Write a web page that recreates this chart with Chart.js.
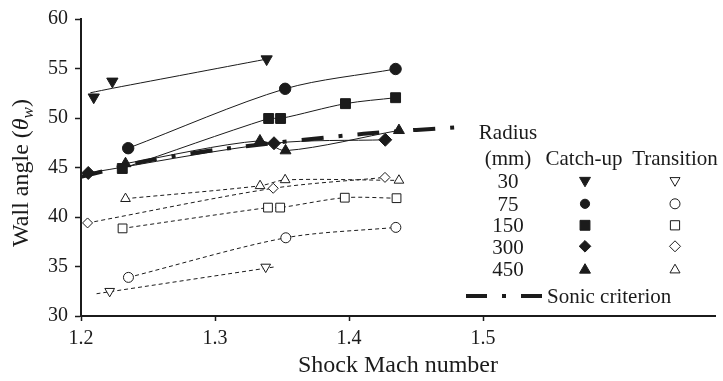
<!DOCTYPE html>
<html>
<head>
<meta charset="utf-8">
<script src="https://cdn.jsdelivr.net/npm/chart.js@4.4.1/dist/chart.umd.min.js"></script>
<style>
    html, body { margin: 0; padding: 0; background: #fff; }
</style>
</head>
<body>
<canvas id="wallChart" width="723" height="381"></canvas>
<script>
// Axis ticks
const xTicks = [1.2, 1.3, 1.4, 1.5];
const yTicks = [30, 35, 40, 45, 50, 55, 60];
const radii = ['30', '75', '150', '300', '450'];

// Catch-up (filled markers)
const cu30Mach = [1.2095, 1.2234, 1.3385];
const cu30Angle = [52.1, 53.7, 55.95];
const cu30FitMach = [1.207, 1.2234, 1.28, 1.3385];
const cu30FitAngle = [52.55, 53.0, 54.45, 55.95];
const cu75Mach = [1.2352, 1.3523, 1.4347];
const cu75Angle = [46.95, 52.95, 54.95];
const cu150Mach = [1.2308, 1.3400, 1.3489, 1.3973, 1.4347];
const cu150Angle = [44.9, 49.95, 49.95, 51.45, 52.05];
const cu300Mach = [1.2054, 1.3440, 1.4270];
const cu300Angle = [44.45, 47.45, 47.8];
const cu450Mach = [1.2332, 1.3335, 1.3526, 1.4372];
const cu450Angle = [45.4, 47.7, 46.7, 48.75];

// Transition (open markers)
const tr30Mach = [1.2214, 1.3378];
const tr30Angle = [32.5, 34.95];
const tr30FitMach = [1.2116, 1.345];
const tr30FitAngle = [32.25, 34.97];
const tr75Mach = [1.2354, 1.3528, 1.4349];
const tr75Angle = [33.9, 37.9, 38.95];
const tr150Mach = [1.231, 1.3395, 1.3486, 1.3968, 1.4354];
const tr150Angle = [38.85, 40.95, 40.95, 41.95, 41.9];
const tr300Mach = [1.2049, 1.3434, 1.4268];
const tr300Angle = [39.4, 42.9, 44.0];
const tr450Mach = [1.2332, 1.3336, 1.3523, 1.4372];
const tr450Angle = [41.85, 43.15, 43.75, 43.7];

// Sonic criterion
const sonicMach = [1.2, 1.25, 1.3074, 1.4109, 1.4895];
const sonicAngle = [44.05, 45.7, 46.9, 48.4, 49.15];

const ink = '#1b1b1b';
const serif = 'Liberation Serif';

function pts(xs, ys) {
    return xs.map((x, i) => ({ x: x, y: ys[i] }));
}

const series = [
    { x: cu30Mach, y: cu30Angle, fx: cu30FitMach, fy: cu30FitAngle, style: 'triangle', rot: 180, r: 6.5, filled: true },
    { x: cu75Mach, y: cu75Angle, style: 'circle', rot: 0, r: 5.7, filled: true },
    { x: cu150Mach, y: cu150Angle, style: 'rect', rot: 0, r: 7, filled: true },
    { x: cu300Mach, y: cu300Angle, style: 'rectRot', rot: 0, r: 6.5, filled: true },
    { x: cu450Mach, y: cu450Angle, style: 'triangle', rot: 0, r: 6.3, filled: true },
    { x: tr30Mach, y: tr30Angle, fx: tr30FitMach, fy: tr30FitAngle, style: 'triangle', rot: 180, r: 5.6, filled: false },
    { x: tr75Mach, y: tr75Angle, style: 'circle', rot: 0, r: 5, filled: false },
    { x: tr150Mach, y: tr150Angle, style: 'rect', rot: 0, r: 6.2, filled: false },
    { x: tr300Mach, y: tr300Angle, style: 'rectRot', rot: 0, r: 5, filled: false },
    { x: tr450Mach, y: tr450Angle, style: 'triangle', rot: 0, r: 5.6, filled: false }
];

const datasets = [];
series.forEach(s => {
    // fitted line
    datasets.push({
        data: pts(s.fx || s.x, s.fy || s.y),
        showLine: true,
        pointRadius: 0,
        borderColor: ink,
        borderWidth: 1,
        borderDash: s.filled ? [] : [4, 3],
        tension: 0.3,
        order: 3
    });
    // markers
    datasets.push({
        data: pts(s.x, s.y),
        showLine: false,
        pointStyle: s.style,
        pointRotation: s.rot,
        pointRadius: s.r,
        pointBackgroundColor: s.filled ? ink : '#fff',
        pointBorderColor: ink,
        pointBorderWidth: 1,
        order: 1
    });
});
datasets.push({
    data: pts(sonicMach, sonicAngle),
    showLine: true,
    pointRadius: 0,
    borderColor: ink,
    borderWidth: 4,
    borderDash: [22, 15, 4, 15],
    borderCapStyle: 'butt',
    tension: 0.3,
    order: 2
});

// y title with italic theta and subscript w
const yTitlePlugin = {
    id: 'yTitle',
    afterDraw(chart) {
        const ctx = chart.ctx;
        ctx.save();
        ctx.translate(28, 173);
        ctx.rotate(-Math.PI / 2);
        ctx.fillStyle = ink;
        ctx.textBaseline = 'alphabetic';
        ctx.textAlign = 'left';
        const parts = [
            { t: 'Wall angle (', f: '24px ' + serif, dy: 0 },
            { t: '\u03B8', f: 'italic 24px ' + serif, dy: 0 },
            { t: 'w', f: 'italic 17px ' + serif, dy: 5 },
            { t: ')', f: '24px ' + serif, dy: 0 }
        ];
        let total = 0;
        parts.forEach(p => { ctx.font = p.f; p.w = ctx.measureText(p.t).width; total += p.w; });
        let x = -total / 2;
        parts.forEach(p => {
            ctx.font = p.f;
            ctx.fillText(p.t, x, p.dy);
            x += p.w;
        });
        ctx.restore();
    }
};

// legend table drawn inside the plot
const legendPlugin = {
    id: 'tableLegend',
    afterDraw(chart) {
        const ctx = chart.ctx;
        ctx.save();
        ctx.fillStyle = ink;
        ctx.font = '21px ' + serif;
        ctx.textBaseline = 'alphabetic';
        ctx.textAlign = 'center';
        ctx.fillText('Radius', 508, 139);
        ctx.fillText('(mm)', 508, 165);
        ctx.fillText('Catch-up', 584, 165);
        ctx.fillText('Transition', 675, 165);

        const baselines = [188.3, 210.7, 232.3, 254, 275.7];
        const markY = [180.5, 203.8, 225.3, 246.3, 270];
        radii.forEach((r, i) => {
            ctx.fillStyle = ink;
            ctx.fillText(r, 508, baselines[i]);
            const cu = series[i];
            const tr = series[i + 5];
            const sizes = [[6.3, 5.8], [4.6, 5], [7, 6.5], [5.8, 5.5], [6.3, 5.8]][i];
            ctx.strokeStyle = ink;
            ctx.lineWidth = 1;
            ctx.fillStyle = ink;
            Chart.helpers.drawPoint(ctx, { pointStyle: cu.style, rotation: cu.rot, radius: sizes[0], borderWidth: 1 }, 585, markY[i]);
            ctx.fillStyle = '#fff';
            Chart.helpers.drawPoint(ctx, { pointStyle: tr.style, rotation: tr.rot, radius: sizes[1], borderWidth: 1 }, 675, markY[i]);
        });

        ctx.strokeStyle = ink;
        ctx.lineWidth = 4;
        ctx.lineCap = 'butt';
        ctx.setLineDash([21, 15, 4, 15]);
        ctx.beginPath();
        ctx.moveTo(466, 296);
        ctx.lineTo(542, 296);
        ctx.stroke();
        ctx.setLineDash([]);
        ctx.fillStyle = ink;
        ctx.textAlign = 'left';
        ctx.fillText('Sonic criterion', 547, 303.3);
        ctx.restore();
    }
};

new Chart(document.getElementById('wallChart'), {
    type: 'scatter',
    data: { datasets: datasets },
    options: {
        responsive: false,
        animation: false,
        events: [],
        layout: { padding: { top: 14, right: 1, left: 0, bottom: 0 } },
        plugins: {
            legend: { display: false },
            tooltip: { enabled: false }
        },
        scales: {
            x: {
                type: 'linear',
                min: 1.2,
                max: 1.673,
                afterBuildTicks: s => { s.ticks = xTicks.map(v => ({ value: v })); },
                afterFit: s => { s.height = 65; },
                border: { color: ink, width: 2 },
                grid: { drawOnChartArea: false, tickLength: 5, color: ink, tickWidth: 1.5 },
                ticks: {
                    padding: 6,
                    color: ink,
                    font: { family: serif, size: 20 },
                    callback: v => Number(v).toFixed(1)
                },
                title: {
                    display: true,
                    text: 'Shock Mach number',
                    color: ink,
                    font: { family: serif, size: 24 },
                    padding: { top: 0, bottom: 1 }
                }
            },
            y: {
                type: 'linear',
                min: 30,
                max: 60,
                afterBuildTicks: s => { s.ticks = yTicks.map(v => ({ value: v })); },
                afterFit: s => { s.width = 81; },
                border: { color: ink, width: 2 },
                grid: { drawOnChartArea: false, tickLength: 6, color: ink, tickWidth: 1.5 },
                ticks: {
                    padding: 7,
                    color: ink,
                    font: { family: serif, size: 20 }
                }
            }
        }
    },
    plugins: [yTitlePlugin, legendPlugin]
});
</script>
</body>
</html>
